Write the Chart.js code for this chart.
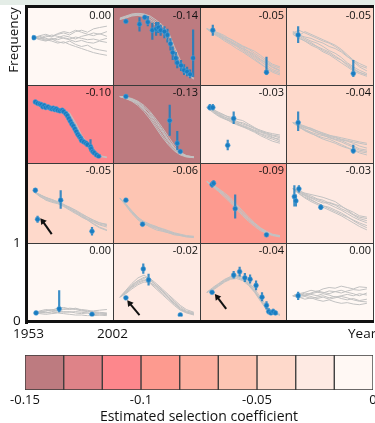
<!DOCTYPE html>
<html><head><meta charset="utf-8">
<script src="https://cdn.jsdelivr.net/npm/chart.js@4"></script>
<style>
html,body{margin:0;padding:0;background:#fff;overflow:hidden;}
#root{position:relative;width:375px;height:423px;overflow:hidden;font-family:"Open Sans",sans-serif;color:#111;}
</style></head><body><div id="root"></div>
<script>
// ---------------- DATA ----------------
const YEARS = [1953,1957,1961,1965,1969,1973,1977,1981,1985,1989,1993,1997,2002];
const COEFFS = [0.00,-0.14,-0.05,-0.05, -0.10,-0.13,-0.03,-0.04, -0.05,-0.06,-0.09,-0.03, 0.00,-0.02,-0.04,0.00];
const PANEL_BINS = [8,0,5,6, 2,0,7,6, 6,5,3,7, 8,7,6,8];
const COLORBAR_EDGES = [-0.15,-0.1333,-0.1167,-0.1,-0.0833,-0.0667,-0.05,-0.0333,-0.0167,0];
const COLORBAR_COLORS = ['#bd7b80','#de8388','#fd878c','#fd9a8f','#fdb0a0','#fdc5b3','#fed9cb','#feeae3','#fff8f4'];
const X_TICK_LABELS = ['1953','2002'];
const Y_TICK_LABELS = ['1','0'];

// simulated trajectories (frequency at YEARS) and observed [year, freq, lo, hi]
const sim_r1c1 = [
 [.63,.62,.66,.64,.68,.70,.67,.72,.74,.71,.76,.78,.80],
 [.63,.60,.58,.61,.57,.55,.58,.53,.50,.52,.47,.45,.43],
 [.63,.65,.62,.60,.63,.66,.64,.61,.65,.67,.70,.68,.72],
 [.63,.61,.64,.67,.65,.62,.60,.57,.59,.56,.55,.58,.56],
 [.63,.64,.60,.58,.55,.57,.53,.50,.47,.44,.41,.39,.37],
 [.63,.66,.68,.65,.69,.72,.70,.74,.71,.68,.66,.69,.65],
 [.63,.62,.59,.62,.60,.63,.61,.64,.62,.60,.61,.59,.62]];
const obs_r1c1 = [[1953,.63,.60,.66]];

const sim_r1c2 = [
 [.91,.94,.97,.98,.97,.93,.86,.80,.70,.45,.25,.12,.05],
 [.90,.93,.96,.97,.95,.90,.84,.76,.62,.40,.20,.09,.03],
 [.92,.95,.98,.99,.98,.95,.89,.82,.72,.50,.30,.15,.07],
 [.90,.92,.95,.96,.94,.88,.80,.72,.58,.36,.18,.08,.02]];
const obs_r1c2 = [[1957,.87,.85,.89],[1966,.83,.72,.93],[1969.5,.93,.90,.96],[1971.5,.86,.80,.95],
 [1974.5,.74,.60,.85],[1977,.76,.66,.86],[1978.5,.78,.70,.86],[1980,.74,.66,.82],[1982.5,.72,.62,.80],
 [1984.5,.67,.56,.76],[1986.5,.54,.44,.62],[1988,.41,.30,.50],[1990,.33,.24,.42],[1991,.26,.18,.34],
 [1993.5,.22,.14,.30],[1995.5,.15,.08,.24],[1997.5,.13,.06,.20],[1999.5,.09,.03,.16],[2001.5,.33,.05,.75]];

const sim_r1c3 = [
 [.76,.72,.68,.62,.58,.52,.46,.40,.34,.28,.22,.16,.12],
 [.76,.70,.65,.60,.55,.50,.44,.38,.32,.25,.18,.12,.08],
 [.76,.73,.70,.66,.60,.55,.50,.46,.40,.34,.28,.22,.18],
 [.76,.71,.66,.63,.57,.53,.49,.42,.36,.30,.25,.19,.14],
 [.76,.74,.69,.64,.61,.56,.51,.47,.43,.37,.30,.24,.20],
 [.76,.69,.64,.58,.53,.47,.42,.36,.30,.24,.19,.14,.10],
 [.76,.72,.67,.61,.56,.51,.47,.43,.38,.31,.26,.20,.15]];
const obs_r1c3 = [[1957,.74,.66,.82],[1993,.12,.08,.35]];

const sim_r1c4 = [
 [.70,.66,.72,.68,.64,.60,.56,.52,.46,.38,.30,.22,.18],
 [.72,.68,.62,.58,.55,.50,.44,.40,.34,.26,.20,.15,.10],
 [.68,.62,.58,.52,.48,.42,.38,.32,.26,.20,.14,.10,.06],
 [.70,.74,.70,.66,.62,.58,.55,.50,.44,.36,.28,.20,.14],
 [.72,.66,.60,.56,.50,.44,.40,.34,.30,.24,.18,.12,.08],
 [.70,.67,.64,.62,.58,.55,.50,.47,.42,.35,.30,.25,.20],
 [.68,.64,.58,.54,.50,.46,.42,.36,.30,.22,.16,.12,.08]];
const obs_r1c4 = [[1956.5,.67,.55,.80],[1993,.10,.05,.30]];

const sim_r2c1 = [
 [.82,.79,.77,.74,.72,.70,.66,.52,.34,.22,.10,.04,.02],
 [.82,.80,.76,.75,.71,.69,.64,.48,.30,.19,.08,.03,.01]];
const obs_r2c1 = [[1954,.82,.80,.84],[1955.5,.80,.78,.82],[1957,.79,.77,.81],[1958,.78,.76,.80],
 [1959,.75,.73,.77],[1960,.77,.75,.79],[1961,.74,.72,.76],[1962.5,.75,.73,.77],[1964,.73,.71,.75],
 [1965,.72,.70,.74],[1966,.73,.71,.75],[1967,.71,.69,.73],[1968,.72,.70,.74],[1969,.70,.68,.72],
 [1970.5,.69,.67,.71],[1972,.70,.67,.73],[1973,.68,.65,.71],[1974.5,.65,.62,.68],[1975.5,.62,.59,.65],
 [1976.5,.58,.55,.61],[1977.5,.54,.51,.57],[1978.5,.50,.47,.53],[1979.5,.47,.44,.50],[1980.5,.43,.40,.46],
 [1981.5,.39,.36,.42],[1982.5,.35,.32,.38],[1983.5,.32,.29,.35],[1984.5,.29,.26,.32],[1985,.26,.23,.29],
 [1986.5,.24,.21,.27],[1988,.22,.19,.25],[1989,.20,.17,.23],[1991,.17,.10,.28],[1991.5,.14,.11,.17],
 [1992.5,.10,.07,.13],[1993.5,.08,.05,.11],[1995,.05,.03,.07],[1996.5,.03,.01,.05]];

const sim_r2c2 = [
 [.90,.88,.85,.80,.72,.62,.50,.38,.25,.14,.07,.03,.02],
 [.90,.89,.87,.83,.77,.68,.57,.45,.32,.19,.09,.04,.02],
 [.90,.87,.83,.77,.68,.57,.44,.31,.20,.11,.05,.02,.01],
 [.90,.88,.86,.82,.75,.66,.54,.42,.28,.16,.08,.04,.02],
 [.90,.89,.86,.81,.73,.60,.47,.34,.22,.12,.06,.03,.02],
 [.90,.87,.84,.79,.70,.64,.53,.40,.27,.15,.07,.03,.01]];
const obs_r2c2 = [[1957,.90,.88,.92],[1986,.55,.33,.78],[1991,.22,.12,.40],[1993,.10,.08,.12]];

const sim_r2c3 = [
 [.74,.68,.62,.58,.55,.52,.48,.45,.40,.36,.33,.30,.28],
 [.74,.70,.65,.60,.56,.50,.46,.42,.38,.33,.29,.25,.22],
 [.74,.72,.66,.62,.60,.57,.55,.50,.45,.40,.36,.33,.30],
 [.74,.69,.64,.58,.53,.49,.46,.44,.41,.38,.35,.31,.26],
 [.74,.71,.67,.63,.58,.54,.50,.47,.43,.39,.37,.34,.32],
 [.74,.67,.61,.57,.54,.51,.47,.43,.39,.35,.31,.28,.24],
 [.74,.70,.63,.60,.57,.53,.52,.48,.44,.41,.38,.36,.34]];
const obs_r2c3 = [[1955,.74,.70,.79],[1957,.74,.70,.79],[1971,.58,.50,.68],[1967,.19,.12,.27]];

const sim_r2c4 = [
 [.52,.48,.44,.42,.38,.34,.30,.27,.24,.20,.16,.12,.10],
 [.52,.46,.40,.36,.33,.30,.28,.24,.20,.16,.12,.08,.05],
 [.52,.50,.47,.43,.40,.37,.34,.31,.28,.26,.24,.22,.20],
 [.52,.47,.42,.38,.35,.33,.31,.28,.26,.22,.18,.14,.12],
 [.52,.49,.46,.44,.40,.36,.32,.30,.27,.25,.22,.18,.15],
 [.52,.45,.41,.37,.32,.28,.25,.22,.18,.15,.12,.10,.08],
 [.52,.48,.45,.41,.37,.35,.33,.32,.30,.28,.26,.24,.22]];
const obs_r2c4 = [[1956.5,.52,.40,.68],[1993,.11,.07,.20]];

const sim_r3c1 = [
 [.66,.60,.56,.53,.50,.47,.43,.37,.32,.27,.23,.19,.16],
 [.66,.62,.57,.55,.52,.48,.42,.36,.30,.26,.21,.16,.12],
 [.66,.59,.55,.52,.50,.46,.41,.38,.34,.30,.26,.22,.19],
 [.66,.61,.58,.54,.51,.48,.44,.39,.33,.28,.24,.20,.18],
 [.66,.60,.54,.51,.49,.45,.40,.35,.31,.26,.20,.15,.11],
 [.66,.62,.58,.55,.51,.47,.44,.40,.35,.30,.25,.22,.20]];
const obs_r3c1 = [[1954,.68,.65,.71],[1971,.54,.42,.68],[1955.5,.27,.22,.32],[1992,.10,.04,.16]];
const arrow_r3c1 = [[1965,.06],[1959,.24]];

const sim_r3c2 = [
 [.57,.48,.38,.28,.22,.18,.15,.12,.09,.07,.05,.03,.02],
 [.57,.47,.36,.26,.20,.17,.14,.11,.08,.06,.04,.03,.02],
 [.57,.49,.39,.30,.23,.19,.16,.14,.11,.08,.06,.04,.03],
 [.57,.46,.35,.27,.21,.16,.12,.10,.08,.05,.04,.02,.01],
 [.57,.48,.37,.29,.24,.20,.17,.13,.10,.07,.05,.03,.02]];
const obs_r3c2 = [[1957,.54,.52,.56],[1968,.20,.18,.22]];

const sim_r3c3 = [
 [.80,.74,.67,.60,.52,.43,.34,.26,.19,.13,.08,.05,.03],
 [.80,.75,.69,.62,.55,.46,.37,.28,.21,.14,.09,.05,.03],
 [.80,.73,.66,.58,.50,.41,.32,.24,.17,.11,.07,.04,.02],
 [.80,.76,.70,.64,.57,.48,.39,.30,.22,.15,.10,.06,.04],
 [.80,.74,.68,.61,.53,.44,.35,.27,.20,.13,.08,.05,.03]];
const obs_r3c3 = [[1956.5,.76,.72,.80],[1957.5,.78,.74,.82],[1972,.42,.28,.62],[1993,.05,.03,.07]];

const sim_r3c4 = [
 [.70,.66,.62,.58,.55,.52,.48,.44,.40,.35,.30,.26,.22],
 [.70,.64,.58,.54,.50,.46,.42,.38,.34,.30,.26,.22,.18],
 [.70,.67,.64,.62,.60,.58,.55,.52,.46,.40,.34,.30,.28],
 [.70,.65,.60,.55,.50,.46,.44,.40,.36,.31,.25,.20,.15],
 [.70,.68,.63,.60,.56,.54,.50,.47,.42,.38,.33,.28,.25],
 [.70,.63,.57,.52,.48,.44,.40,.36,.32,.27,.22,.17,.12],
 [.70,.66,.61,.57,.53,.50,.51,.48,.45,.41,.37,.32,.30]];
const obs_r3c4 = [[1954,.59,.45,.75],[1955,.53,.45,.62],[1957,.70,.65,.75],[1971.5,.44,.40,.48]];

const sim_r4c1 = [
 [.05,.07,.08,.10,.09,.11,.10,.12,.09,.08,.06,.05,.04],
 [.05,.06,.05,.07,.08,.06,.07,.05,.04,.05,.03,.02,.03],
 [.05,.08,.10,.09,.12,.13,.11,.10,.08,.07,.08,.09,.10],
 [.05,.04,.03,.04,.05,.04,.03,.02,.02,.01,.01,.02,.01],
 [.05,.06,.08,.09,.08,.10,.12,.11,.10,.09,.07,.06,.05],
 [.05,.05,.06,.05,.06,.07,.06,.07,.06,.05,.04,.04,.03]];
const obs_r4c1 = [[1954.5,.05,.04,.06],[1970,.11,.06,.38],[1992,.03,.01,.06]];

const sim_r4c2 = [
 [.28,.36,.44,.52,.55,.50,.42,.34,.26,.18,.10,.06,.04],
 [.28,.34,.42,.48,.52,.52,.46,.38,.30,.22,.14,.08,.05],
 [.28,.38,.48,.56,.60,.54,.45,.36,.28,.20,.12,.07,.03],
 [.28,.35,.43,.50,.53,.48,.40,.32,.24,.16,.09,.05,.02],
 [.28,.37,.46,.52,.57,.55,.48,.40,.32,.24,.16,.10,.06],
 [.28,.33,.40,.46,.50,.49,.44,.37,.28,.19,.11,.06,.03]];
const obs_r4c2 = [[1957,.27,.25,.29],[1968.5,.69,.62,.77],[1972,.53,.45,.62],[1993,.02,.01,.04]];
const arrow_r4c2 = [[1966,.02],[1959.5,.19]];

const sim_r4c3 = [
 [.35,.40,.46,.52,.56,.58,.55,.48,.38,.25,.12,.05,.02],
 [.35,.42,.48,.54,.58,.60,.57,.50,.40,.28,.15,.07,.03],
 [.35,.38,.44,.50,.54,.55,.52,.45,.35,.22,.10,.04,.02],
 [.35,.41,.47,.53,.57,.59,.54,.46,.37,.24,.13,.06,.02],
 [.35,.39,.45,.51,.55,.57,.53,.47,.36,.23,.11,.05,.02]];
const obs_r4c3 = [[1956.5,.35,.33,.37],[1971,.60,.55,.66],[1975,.65,.58,.72],[1978.5,.56,.50,.63],
 [1982,.54,.48,.61],[1986,.45,.38,.52],[1990,.28,.22,.35],[1993,.16,.10,.22],[1994.5,.07,.03,.12],
 [1996,.05,.02,.09],[1997.5,.07,.03,.11],[1999,.05,.02,.08]];
const arrow_r4c3 = [[1966,.11],[1960,.28]];

const sim_r4c4 = [
 [.30,.33,.35,.38,.36,.40,.42,.41,.44,.42,.40,.43,.42],
 [.30,.28,.25,.27,.24,.22,.24,.21,.19,.20,.18,.17,.19],
 [.30,.32,.30,.33,.35,.34,.37,.36,.34,.37,.39,.38,.40],
 [.30,.27,.29,.26,.28,.30,.27,.29,.26,.24,.26,.23,.25],
 [.30,.31,.34,.32,.30,.33,.31,.28,.30,.32,.30,.33,.31],
 [.30,.29,.31,.34,.37,.35,.33,.36,.38,.35,.33,.30,.34],
 [.30,.33,.31,.29,.26,.28,.25,.27,.29,.27,.24,.22,.21]];
const obs_r4c4 = [[1956.5,.30,.24,.36]];

const PANEL_SIMS = [sim_r1c1,sim_r1c2,sim_r1c3,sim_r1c4,sim_r2c1,sim_r2c2,sim_r2c3,sim_r2c4,
  sim_r3c1,sim_r3c2,sim_r3c3,sim_r3c4,sim_r4c1,sim_r4c2,sim_r4c3,sim_r4c4];
const PANEL_OBS = [obs_r1c1,obs_r1c2,obs_r1c3,obs_r1c4,obs_r2c1,obs_r2c2,obs_r2c3,obs_r2c4,
  obs_r3c1,obs_r3c2,obs_r3c3,obs_r3c4,obs_r4c1,obs_r4c2,obs_r4c3,obs_r4c4];
const PANEL_ARROWS = {8:arrow_r3c1, 13:arrow_r4c2, 14:arrow_r4c3};

// ---------------- LAYOUT ----------------
const COL_EDGES = [27,113,200,286,373];
const ROW_EDGES = [8,85,163,243,321];
const BLUE = '#1a7cc0';
const root = document.getElementById('root');

function addDiv(css, text){
  const d = document.createElement('div');
  d.style.cssText = 'position:absolute;white-space:nowrap;' + css;
  if (text !== undefined) d.textContent = text;
  root.appendChild(d); return d;
}
addDiv('left:0;top:0;width:375px;height:5px;background:#e4ede7;');

function makePanel(i){
  const r = Math.floor(i/4), c = i%4;
  const L = COL_EDGES[c], T = ROW_EDGES[r];
  const W = COL_EDGES[c+1]-L, H = ROW_EDGES[r+1]-T;
  const cv = document.createElement('canvas');
  cv.width = W; cv.height = H;
  cv.style.cssText = `position:absolute;left:${L}px;top:${T}px;width:${W}px;height:${H}px;background:${COLORBAR_COLORS[PANEL_BINS[i]]};`;
  root.appendChild(cv);
  const datasets = [];
  const arrow = PANEL_ARROWS[i];
  if (arrow){
    datasets.push({data: arrow.map(p=>({x:p[0],y:p[1]})), borderColor:'#111', borderWidth:2,
      pointRadius:[0,4], pointStyle:'triangle', pointRotation:[0,-38], pointBackgroundColor:'#111',
      pointBorderWidth:0, order:0});
  }
  const obs = PANEL_OBS[i];
  datasets.push({data: obs.map(o=>({x:o[0],y:o[1]})), showLine:false, pointRadius:2.4,
    pointBackgroundColor:BLUE, pointBorderColor:'#4c9fd6', pointBorderWidth:0.6, order:1});
  const err = [];
  obs.forEach(o=>{ err.push({x:o[0],y:o[2]}); err.push({x:o[0],y:o[3]}); err.push({x:o[0],y:null}); });
  datasets.push({data: err, borderColor:'rgba(26,124,192,0.85)', borderWidth:2.2, pointRadius:0, spanGaps:false, order:2});
  PANEL_SIMS[i].forEach(line=>{
    datasets.push({data: YEARS.map((yr,k)=>({x:yr,y:line[k]})), borderColor:'#c2c2c2', borderWidth:1,
      pointRadius:0, tension:0, order:3});
  });
  new Chart(cv, {
    type:'line',
    data:{datasets},
    options:{
      responsive:false, animation:false, devicePixelRatio:1,
      layout:{padding:0},
      plugins:{legend:{display:false}, tooltip:{enabled:false}},
      scales:{
        x:{type:'linear', min:1951.5, max:2003, display:false},
        y:{type:'linear', min:0, max:1, display:false}
      }
    }
  });
  addDiv(`right:${375-COL_EDGES[c+1]+2}px;top:${T+1}px;font-size:11px;line-height:12px;`, COEFFS[i].toFixed(2));
}
for (let i=0;i<16;i++) makePanel(i);

// grid lines
for (let k=1;k<4;k++){
  addDiv(`left:${COL_EDGES[k]-0.5}px;top:${ROW_EDGES[0]}px;width:1px;height:${ROW_EDGES[4]-ROW_EDGES[0]}px;background:#3a3a3a;`);
  addDiv(`left:${COL_EDGES[0]}px;top:${ROW_EDGES[k]-0.5}px;width:${COL_EDGES[4]-COL_EDGES[0]}px;height:1px;background:#3a3a3a;`);
}
addDiv(`left:${COL_EDGES[4]-0.5}px;top:${ROW_EDGES[0]}px;width:1px;height:${ROW_EDGES[4]-ROW_EDGES[0]}px;background:#3a3a3a;`);
// outer frame
addDiv('left:25px;top:5px;width:3px;height:319px;background:#111;');
addDiv('left:25px;top:5px;width:349px;height:3px;background:#111;');
addDiv('left:25px;top:320px;width:349px;height:3px;background:#111;');

// axis texts
addDiv('left:-27px;top:33px;width:80px;text-align:center;font-size:13.5px;line-height:14px;transform:rotate(-90deg);', 'Frequency');
addDiv('left:13px;top:235px;font-size:13.5px;line-height:14px;', Y_TICK_LABELS[0]);
addDiv('left:13px;top:313px;font-size:13.5px;line-height:14px;', Y_TICK_LABELS[1]);
addDiv('left:13px;top:326px;font-size:13.5px;line-height:14px;', X_TICK_LABELS[0]);
addDiv('left:97px;top:326px;font-size:13.5px;line-height:14px;', X_TICK_LABELS[1]);
addDiv('left:348px;top:326px;font-size:13.5px;line-height:14px;', 'Year');

// ---------------- COLORBAR ----------------
const cb = document.createElement('canvas');
cb.width = 395; cb.height = 76;
cb.style.cssText = 'position:absolute;left:0;top:349px;width:395px;height:76px;';
root.appendChild(cb);
new Chart(cb, {
  type:'bar',
  data:{
    labels:['s'],
    datasets: COLORBAR_COLORS.map((col,k)=>({
      data:[[COLORBAR_EDGES[k], COLORBAR_EDGES[k+1]]],
      backgroundColor:col, borderColor:'#3a3a3a', borderWidth:1, borderSkipped:false,
      barPercentage:1, categoryPercentage:1, grouped:false
    }))
  },
  options:{
    indexAxis:'y', responsive:false, animation:false, devicePixelRatio:1,
    layout:{padding:{left:25, right:22, top:6, bottom:0}},
    plugins:{legend:{display:false}, tooltip:{enabled:false}},
    scales:{
      y:{display:false},
      x:{type:'linear', min:-0.15, max:0, grid:{display:false, drawTicks:false}, border:{display:false},
        ticks:{stepSize:0.05, padding:2, color:'#111', font:{family:'"Open Sans"', size:13},
          callback:(v)=> String(Number(v.toFixed(2)))},
        title:{display:true, text:'Estimated selection coefficient', color:'#111', padding:{top:4,bottom:0},
          font:{family:'"Open Sans"', size:14}}}
    }
  }
});
</script></body></html>
